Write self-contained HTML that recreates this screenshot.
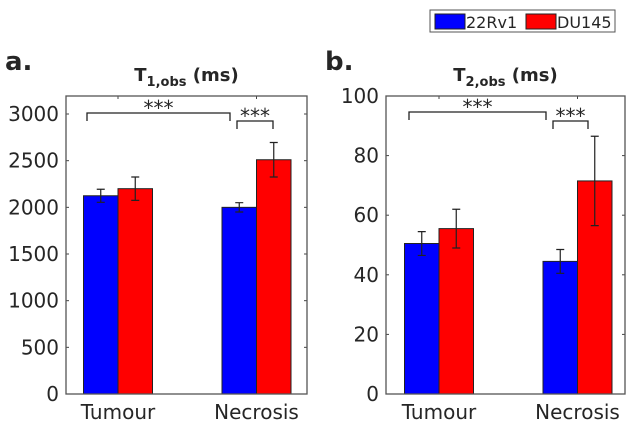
<!DOCTYPE html>
<html><head><meta charset="utf-8"><style>
body{margin:0;background:#fff;width:633px;height:428px;overflow:hidden}
svg text{font-family:"DejaVu Sans","Liberation Sans",sans-serif;fill:#262626}
</style></head><body>
<svg id="c" width="633" height="428"></svg>
<script>
const categories=["Tumour","Necrosis"];
const t1Blue=[2124,2000], t1BlueErr=[70,50];
const t1Red=[2200,2510], t1RedErr=[125,185];
const t1Ticks=[0,500,1000,1500,2000,2500,3000];
const t2Blue=[50.5,44.5], t2BlueErr=[4,4];
const t2Red=[55.5,71.5], t2RedErr=[6.5,15];
const t2Ticks=[0,20,40,60,80,100];
const NS="http://www.w3.org/2000/svg";
const svg=document.getElementById('c');
function el(t,a,p){const e=document.createElementNS(NS,t);for(const k in a)e.setAttribute(k,a[k]);(p||svg).appendChild(e);return e;}
function panel(o){
 const g=el('g',{});
 
 
 const y=v=>o.bottom-(v-0)/(o.ymax)*(o.bottom-o.top);
 const cx=i=>o.c0+i*o.cstep;
 const L=el('text',{x:o.left-61,y:70,'font-size':26,'font-weight':'bold','font-family':'Liberation Sans'},g);L.textContent=o.letter;
 
 const T=el('text',{x:(o.left+o.right)/2,y:81,'font-size':18,'font-weight':'bold','text-anchor':'middle'},g);
 
 T.innerHTML=o.title;
 o.ticks.forEach(v=>{
  const t=el('text',{x:o.left-7,y:y(v)+7,'font-size':20,'text-anchor':'end'},g);t.textContent=v;
  
  el('line',{x1:o.left,x2:o.left+3,y1:y(v),y2:y(v),stroke:'#444'},g);
  el('line',{x1:o.right,x2:o.right-3,y1:y(v),y2:y(v),stroke:'#444'},g);
 });
 const bw=34.5;
 categories.forEach((c,i)=>{
  [[o.blue,o.be,'#0000ff',-bw],[o.red,o.re,'#ff0000',0]].forEach(([vals,errs,col,off])=>{
   const x=cx(i)+off;
   const r=el('rect',{x:x,y:y(vals[i]),width:bw,height:o.bottom-y(vals[i]),fill:col,stroke:'#222','stroke-width':1},g);
   
   const mx=x+bw/2;
   el('path',{d:`M${mx},${y(vals[i]-errs[i])}V${y(vals[i]+errs[i])}M${mx-4},${y(vals[i]-errs[i])}h8M${mx-4},${y(vals[i]+errs[i])}h8`,stroke:'#222','stroke-width':1.2,fill:'none'},g);
  });
  const t=el('text',{x:cx(i),y:419,'font-size':20,'text-anchor':'middle'},g);t.textContent=c;
  
  el('line',{x1:cx(i),x2:cx(i),y1:o.top,y2:o.top+3,stroke:'#444'},g);
 });
 el('rect',{x:o.left,y:o.top,width:o.right-o.left,height:o.bottom-o.top,fill:'none',stroke:'#555','stroke-width':1.3},g);
 const b=o.br;
 el('path',{d:`M${b[0]},${b[2]+8}V${b[2]}H${b[1]}V${b[2]+8}`,stroke:'#222','stroke-width':1.3,fill:'none'},g);
 el('path',{d:`M${b[3]},${b[5]+8}V${b[5]}H${b[4]}V${b[5]+8}`,stroke:'#222','stroke-width':1.3,fill:'none'},g);
 const s1=el('text',{x:(b[0]+b[1])/2,y:b[2]+2,'font-size':20,'text-anchor':'middle'},g);s1.textContent='***';
 
 const s2=el('text',{x:(b[3]+b[4])/2,y:b[5]+2,'font-size':20,'text-anchor':'middle'},g);s2.textContent='***';
 
}
panel({name:'t1-panel',letter:'a.',title:'T<tspan font-size="13" dy="5">1,obs</tspan><tspan dy="-5"> (ms)</tspan>',left:66,right:307,top:96,bottom:394,ymax:3193,ticks:t1Ticks,c0:118,cstep:138.5,blue:t1Blue,be:t1BlueErr,red:t1Red,re:t1RedErr,br:[87,230,113,237,273,121]});
panel({name:'t2-panel',letter:'b.',title:'T<tspan font-size="13" dy="5">2,obs</tspan><tspan dy="-5"> (ms)</tspan>',left:386,right:625,top:96,bottom:394,ymax:100,ticks:t2Ticks,c0:439,cstep:138.5,blue:t2Blue,be:t2BlueErr,red:t2Red,re:t2RedErr,br:[409,546,112,553,588,121]});
const lg=el('g',{});


el('rect',{x:430,y:10,width:185,height:22,fill:'#fff',stroke:'#555'},lg);
el('rect',{x:435,y:14,width:30,height:15,fill:'#0000ff',stroke:'#222'},lg);
const l1=el('text',{x:466,y:28,'font-size':16},lg);l1.textContent='22Rv1';

el('rect',{x:526,y:14,width:30,height:15,fill:'#ff0000',stroke:'#222'},lg);
const l2=el('text',{x:557,y:28,'font-size':16},lg);l2.textContent='DU145';

</script>
</body></html>
